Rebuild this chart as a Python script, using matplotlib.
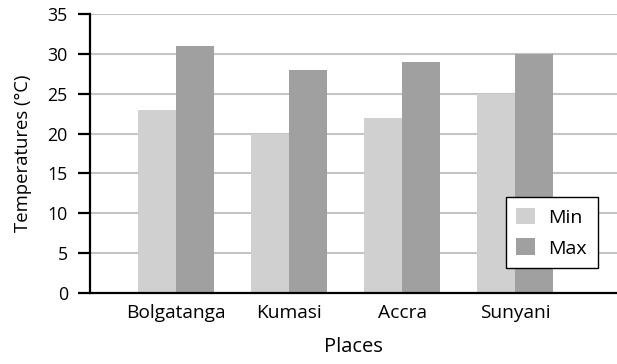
import matplotlib.pyplot as plt
import numpy as np

places = ['Bolgatanga', 'Kumasi', 'Accra', 'Sunyani']
t_min = [23, 20, 22, 25]
t_max = [31, 28, 29, 30]

plt.rcParams['font.family'] = ['Open Sans', 'DejaVu Sans']

fig = plt.figure(figsize=(6.17, 3.64), dpi=100)
ax = fig.add_axes([90 / 617, 71 / 364, 527 / 617, 279 / 364])

x = np.arange(len(places))
w = 0.336
ax.bar(x - w / 2, t_min, w, color='#d0d0d0', label='Min', zorder=2)
ax.bar(x + w / 2, t_max, w, color='#a0a0a0', label='Max', zorder=2)

ax.set_xlim(-0.76, 3.9)
ax.set_ylim(0, 35)
ax.set_yticks(range(0, 36, 5))
ax.set_xticks(x)
ax.set_xticklabels(places)
ax.grid(axis='y', color='#c4c4c4', linewidth=1.5, zorder=0)

for s in ['top', 'right']:
    ax.spines[s].set_visible(False)
ax.spines['left'].set_linewidth(1.6)
ax.spines['bottom'].set_linewidth(1.6)
ax.tick_params(axis='y', length=9, width=1.6, labelsize=12.8, pad=7)
ax.tick_params(axis='x', length=0, labelsize=13.8, pad=8)

ax.set_xlabel('Places', fontsize=14.5, labelpad=11)
ax.set_ylabel('Temperatures (°C)', fontsize=13.3, labelpad=11)

leg = ax.legend(loc='upper left', bbox_to_anchor=(0.789, 0.344), fontsize=14,
                fancybox=False, framealpha=1, edgecolor='black',
                handlelength=0.95, handleheight=0.95, borderpad=0.55,
                labelspacing=0.6, handletextpad=0.7, borderaxespad=0)
leg.get_frame().set_linewidth(1.0)

plt.savefig('out.png', dpi=100)
